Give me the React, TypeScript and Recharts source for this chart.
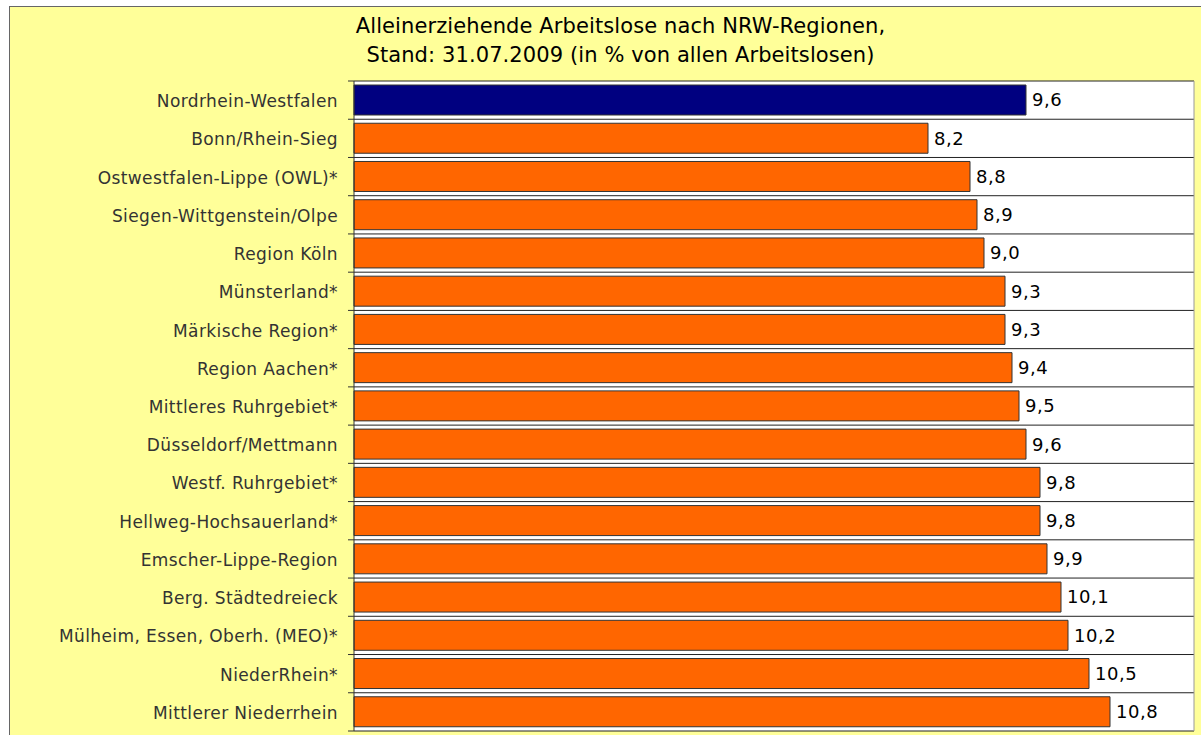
import React from "react";
import {
  BarChart,
  Bar,
  XAxis,
  YAxis,
  CartesianGrid,
  Cell,
  LabelList,
  ReferenceLine,
} from "recharts";

const regions = [
  "Nordrhein-Westfalen",
  "Bonn/Rhein-Sieg",
  "Ostwestfalen-Lippe (OWL)*",
  "Siegen-Wittgenstein/Olpe",
  "Region Köln",
  "Münsterland*",
  "Märkische Region*",
  "Region Aachen*",
  "Mittleres Ruhrgebiet*",
  "Düsseldorf/Mettmann",
  "Westf. Ruhrgebiet*",
  "Hellweg-Hochsauerland*",
  "Emscher-Lippe-Region",
  "Berg. Städtedreieck",
  "Mülheim, Essen, Oberh. (MEO)*",
  "NiederRhein*",
  "Mittlerer Niederrhein",
];

const shares = [
  9.6, 8.2, 8.8, 8.9, 9.0, 9.3, 9.3, 9.4, 9.5, 9.6, 9.8, 9.8, 9.9, 10.1, 10.2,
  10.5, 10.8,
];

const titleLines = [
  "Alleinerziehende Arbeitslose nach NRW-Regionen,",
  "Stand: 31.07.2009 (in % von allen Arbeitslosen)",
];

const data = regions.map((region, i) => ({ region, value: shares[i] }));

const FONT = "'DejaVu Sans', 'Noto Sans', sans-serif";
const W = 1191;
const H = 728;
const MARGIN = { top: 74, right: 7, bottom: 4, left: 10 };
const AXIS_W = 334;
const PLOT_LEFT = MARGIN.left + AXIS_W;
const PLOT_H = H - MARGIN.top - MARGIN.bottom;
const BAND = PLOT_H / regions.length;

const RegionTick = (props: any) => {
  const { y, payload, index } = props;
  return (
    <g>
      <line
        x1={PLOT_LEFT - 6}
        x2={PLOT_LEFT}
        y1={y - BAND / 2}
        y2={y - BAND / 2}
        stroke="#333"
      />
      {index === regions.length - 1 && (
        <line
          x1={PLOT_LEFT - 6}
          x2={PLOT_LEFT}
          y1={y + BAND / 2}
          y2={y + BAND / 2}
          stroke="#333"
        />
      )}
      <text
        x={PLOT_LEFT - 16}
        y={y}
        dy={7}
        textAnchor="end"
        fill="#333"
        fontSize={17}
        letterSpacing={0.4}
        fontFamily={FONT}
      >
        {payload.value}
      </text>
    </g>
  );
};

export default function App() {
  return (
    <div
      style={{
        position: "absolute",
        left: 9,
        top: 6,
        width: 1192,
        height: 729,
        overflow: "hidden",
        background: "#FFFF99",
        borderLeft: "1px solid #666",
        borderTop: "1px solid #666",
        boxSizing: "border-box",
      }}
    >
      <div
        style={{
          position: "absolute",
          left: 0,
          width: 1221,
          top: 5,
          textAlign: "center",
          fontFamily: FONT,
          fontSize: 21,
          letterSpacing: 0.1,
          lineHeight: "29px",
          color: "#000",
        }}
      >
        {titleLines.map((t) => (
          <div key={t}>{t}</div>
        ))}
      </div>
      <BarChart
        width={W}
        height={H}
        data={data}
        layout="vertical"
        margin={MARGIN}
        barCategoryGap={8}
      >
        <CartesianGrid
          fill="#fff"
          stroke="#222"
          vertical={false}
          horizontalCoordinatesGenerator={({ offset }: any) =>
            regions
              .map((_, i) => offset.top + (i * offset.height) / regions.length)
              .concat(offset.top + offset.height)
          }
        />
        <XAxis type="number" domain={[0, 12]} hide />
        <YAxis
          type="category"
          dataKey="region"
          width={AXIS_W}
          axisLine={{ stroke: "#333" }}
          tickLine={false}
          tick={<RegionTick />}
          interval={0}
        />
        <ReferenceLine x={12} stroke="#999" />
        <Bar
          dataKey="value"
          fill="#FF6600"
          stroke="#333"
          strokeWidth={1}
          barSize={30}
          isAnimationActive={false}
        >
          {data.map((d, i) => (
            <Cell key={d.region} fill={i === 0 ? "#000080" : "#FF6600"} />
          ))}
          <LabelList
            dataKey="value"
            position="right"
            offset={6}
            fill="#000"
            fontSize={18}
            letterSpacing={0.5}
            fontFamily={FONT}
            formatter={(v: any) => Number(v).toFixed(1).replace(".", ",")}
          />
        </Bar>
      </BarChart>
    </div>
  );
}
